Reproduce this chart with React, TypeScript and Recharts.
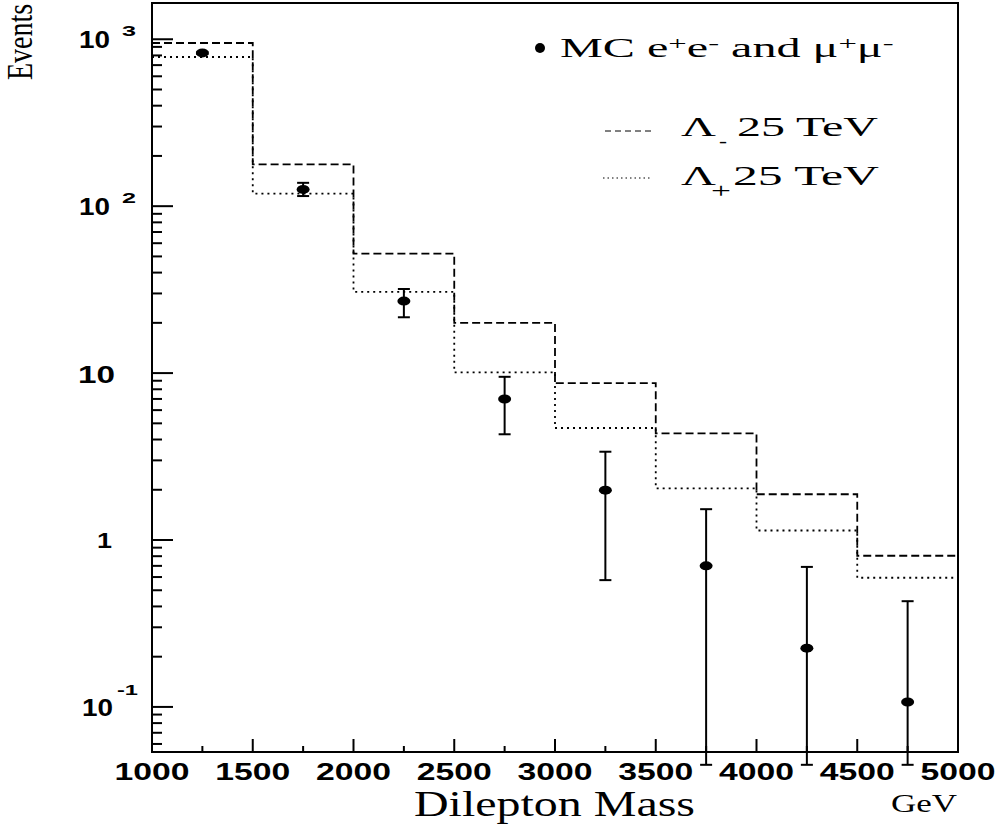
import React from 'react'
import { ComposedChart, Line, Scatter, ErrorBar, XAxis, YAxis, ReferenceArea } from 'recharts'

// histogram bin edges (GeV) and the two contact-interaction predictions
const binEdges = [1000, 1500, 2000, 2500, 3000, 3500, 4000, 4500, 5000]
const lambdaMinus = [950, 178, 52, 20, 8.7, 4.35, 1.88, 0.805]
const lambdaPlus = [783, 119, 30.7, 10.1, 4.69, 2.04, 1.14, 0.594]

// MC points at bin centres, with error bar ends
const binCentres = [1250, 1750, 2250, 2750, 3250, 3750, 4250, 4750]
const mcEvents = [828, 126, 27, 7.0, 1.99, 0.7, 0.225, 0.107]
const mcHigh = [840, 138, 31.9, 9.5, 3.38, 1.53, 0.69, 0.43]
const mcLow = [816, 115, 21.6, 4.3, 0.575, 0.045, 0.045, 0.045]

const xTicks = [1000, 1250, 1500, 1750, 2000, 2250, 2500, 2750, 3000, 3250, 3500, 3750, 4000, 4250, 4500, 4750, 5000]
const yDecades = [0.1, 1, 10, 100, 1000]
const yMinor = [
  0.06, 0.07, 0.08, 0.09,
  0.2, 0.3, 0.4, 0.5, 0.6, 0.7, 0.8, 0.9,
  2, 3, 4, 5, 6, 7, 8, 9,
  20, 30, 40, 50, 60, 70, 80, 90,
  200, 300, 400, 500, 600, 700, 800, 900,
]
const yDomain = [0.0537, 1649]

const SANS = '"Liberation Sans", Arial, sans-serif'
const SERIF = '"Liberation Serif", "Times New Roman", serif'

// plot frame edges in pixels (chart margins below put them here)
const LEFT = 152
const BOTTOM = 752

const histData = binEdges.map((x, i) => ({
  x,
  minus: lambdaMinus[Math.min(i, lambdaMinus.length - 1)],
  plus: lambdaPlus[Math.min(i, lambdaPlus.length - 1)],
}))

const mcData = binCentres.map((x, i) => ({
  x,
  y: mcEvents[i],
  err: [mcEvents[i] - mcLow[i], mcHigh[i] - mcEvents[i]],
}))

const bold = { fontFamily: SANS, fontWeight: 'bold' as const, fill: '#000', lengthAdjust: 'spacingAndGlyphs' as const }

const XTick = ({ x, payload }: any) => {
  const major = payload.value % 500 === 0
  return (
    <g>
      <line x1={x} y1={BOTTOM} x2={x} y2={BOTTOM - (major ? 13 : 6)} stroke="#000" strokeWidth={2} />
      {major && (
        <text x={x} y={BOTTOM + 28} textAnchor="middle" fontSize={24} textLength={75} {...bold}>
          {payload.value}
        </text>
      )}
    </g>
  )
}

const yLabel = (v: number, y: number) => {
  if (v === 1000 || v === 100) {
    return (
      <>
        <text x={79} y={y + 9} fontSize={23} textLength={31} {...bold}>10</text>
        <text x={122} y={y - 3} fontSize={15} textLength={14} {...bold}>{v === 1000 ? '3' : '2'}</text>
      </>
    )
  }
  if (v === 10) {
    return <text x={78} y={y + 10} fontSize={24} textLength={37} {...bold}>10</text>
  }
  if (v === 1) {
    return <text x={97} y={y + 8} fontSize={22} textLength={15} {...bold}>1</text>
  }
  return (
    <>
      <text x={82} y={y + 9} fontSize={23} textLength={31} {...bold}>10</text>
      <text x={117} y={y - 12} fontSize={15} textLength={21} {...bold}>-1</text>
    </>
  )
}

const YTick = ({ y, payload }: any) => {
  const major = yDecades.includes(payload.value)
  return (
    <g>
      <line x1={LEFT} y1={y} x2={LEFT + (major ? 21 : 10)} y2={y} stroke="#000" strokeWidth={2} />
      {major && yLabel(payload.value, y)}
    </g>
  )
}

const Dot = ({ cx, cy }: any) => <ellipse cx={cx} cy={cy} rx={6.5} ry={4.5} fill="#000" />

const serif = (size: number) => ({ fontFamily: SERIF, fontSize: size, fill: '#000', lengthAdjust: 'spacingAndGlyphs' as const })

const Overlay = () => (
  <svg width={1000} height={825} style={{ position: 'absolute', left: 0, top: 0, pointerEvents: 'none' }}>
    {/* axis titles */}
    <g transform="translate(32, 80) rotate(-90) scale(1, 1.3)">
      <text x={0} y={0} {...serif(28)}>Events</text>
    </g>
    <text x={414} y={816} textLength={281} {...serif(36)}>Dilepton Mass</text>
    <text x={891} y={812} textLength={66} {...serif(25)}>GeV</text>

    {/* legend */}
    <circle cx={540} cy={48} r={5} fill="#000" />
    <g transform="translate(560, 57) scale(1.72, 1)">
      <text x={0} y={0} {...serif(28)}>
        MC e<tspan dy={-7} fontSize={19}>+</tspan>
        <tspan dy={7}>e</tspan>
        <tspan dy={-8} fontSize={19}>-</tspan>
        <tspan dy={8}> and μ</tspan>
        <tspan dy={-7} fontSize={19}>+</tspan>
        <tspan dy={7}>μ</tspan>
        <tspan dy={-8} fontSize={19}>-</tspan>
      </text>
    </g>

    <line x1={605} y1={131} x2={652} y2={131} stroke="#000" strokeWidth={1} strokeDasharray="6 4" />
    <text x={681} y={136} textLength={35} {...serif(28)}>Λ</text>
    <text x={719} y={147} textLength={8} {...serif(19)}>-</text>
    <text x={737} y={136} textLength={141} {...serif(28)}>25 TeV</text>

    <line x1={603} y1={178} x2={652} y2={178} stroke="#000" strokeWidth={1} strokeDasharray="1.5 3" />
    <text x={681} y={185} textLength={35} {...serif(28)}>Λ</text>
    <text x={711} y={198} textLength={20} {...serif(22)}>+</text>
    <text x={733} y={185} textLength={146} {...serif(28)}>25 TeV</text>
  </svg>
)

export default function App() {
  return (
    <div style={{ position: 'absolute', left: 0, top: 0, width: 1000, height: 825, background: '#fff' }}>
      <ComposedChart width={1000} height={825} margin={{ top: 3, right: 42, bottom: 43, left: 112 }}>
        <XAxis
          dataKey="x"
          type="number"
          domain={[1000, 5000]}
          ticks={xTicks}
          interval={0}
          tick={XTick}
          tickLine={false}
          tickSize={0}
          tickMargin={0}
          height={30}
          axisLine={{ stroke: '#000', strokeWidth: 2 }}
          allowDataOverflow
        />
        <YAxis
          type="number"
          scale="log"
          domain={yDomain}
          ticks={[...yMinor, ...yDecades].sort((a, b) => a - b)}
          interval={0}
          tick={YTick}
          tickLine={false}
          tickSize={0}
          tickMargin={0}
          width={40}
          axisLine={{ stroke: '#000', strokeWidth: 2 }}
          allowDataOverflow
        />
        <ReferenceArea x1={1000} x2={5000} y1={yDomain[0]} y2={yDomain[1]} fill="none" stroke="#000" strokeWidth={2} />
        <Line data={histData} dataKey="minus" type="stepAfter" stroke="#000" strokeWidth={1.8} strokeDasharray="8 4" dot={false} isAnimationActive={false} />
        <Line data={histData} dataKey="plus" type="stepAfter" stroke="#000" strokeWidth={1.8} strokeDasharray="2 4" dot={false} isAnimationActive={false} />
        <Scatter data={mcData} dataKey="y" shape={Dot} isAnimationActive={false}>
          <ErrorBar dataKey="err" direction="y" width={6} stroke="#000" strokeWidth={2} isAnimationActive={false} />
        </Scatter>
      </ComposedChart>
      <Overlay />
    </div>
  )
}
